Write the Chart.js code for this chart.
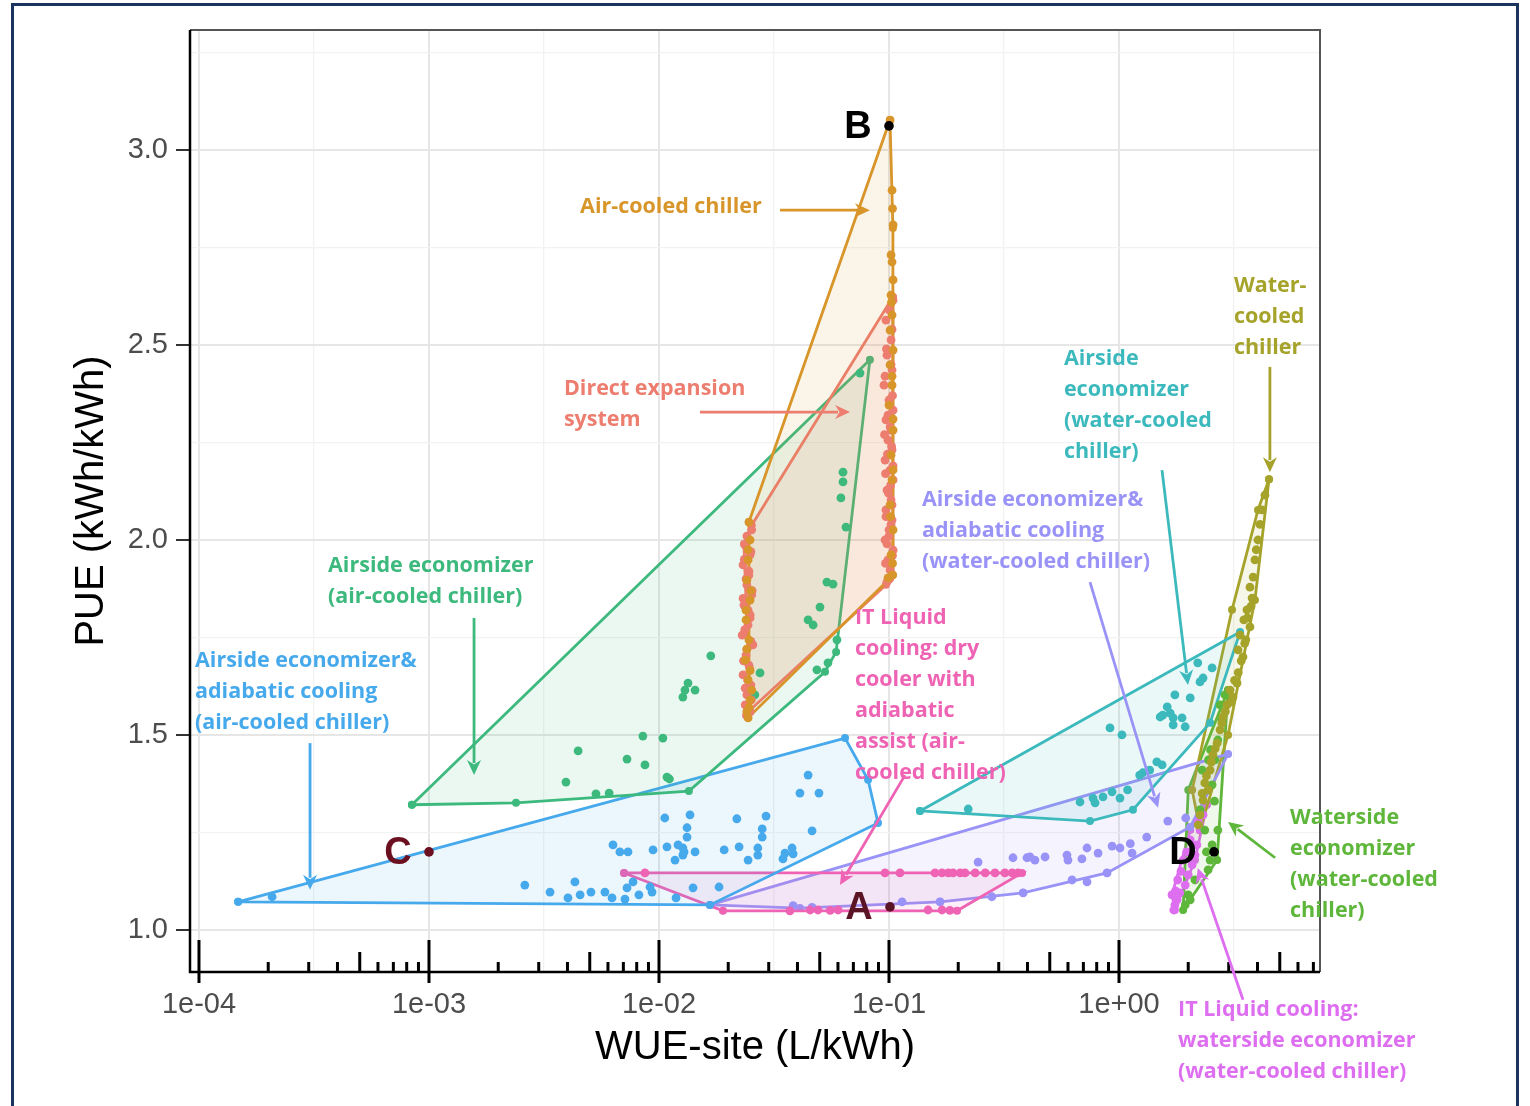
<!DOCTYPE html>
<html>
<head>
<meta charset="utf-8">
<script src="https://cdn.jsdelivr.net/npm/chart.js@4.4.1/dist/chart.umd.min.js"></script>
<style>
  html, body { margin: 0; padding: 0; background: #fff; }
  #wrap { position: relative; width: 1530px; height: 1106px; overflow: hidden; }
  #frame { position: absolute; left: 11px; top: 3px; width: 1508px; height: 1120px;
           border: 3px solid #1c355e; box-sizing: border-box; }
  #c { position: absolute; left: 0; top: 0; }
</style>
</head>
<body>
<div id="wrap">
  <div id="frame"></div>
  <canvas id="c" width="1530" height="1106"></canvas>
</div>
<script>

// ---- DATA ----

const categories = [
  "Air-cooled chiller",
  "Direct expansion system",
  "Airside economizer (air-cooled chiller)",
  "Airside economizer& adiabatic cooling (air-cooled chiller)",
  "IT Liquid cooling: dry cooler with adiabatic assist (air-cooled chiller)",
  "Airside economizer (water-cooled chiller)",
  "Airside economizer& adiabatic cooling (water-cooled chiller)",
  "Water-cooled chiller",
  "Waterside economizer (water-cooled chiller)",
  "IT Liquid cooling: waterside economizer (water-cooled chiller)"
];

// x = WUE-site (L/kWh), y = PUE

// air-cooled chiller
const acHullX = [0.101, 0.104, 0.104, 0.099, 0.0244, 0.0246];
const acHullY = [3.077, 2.80, 1.91, 1.897, 1.544, 2.046];
const acX = [0.1011, 0.1031, 0.1042, 0.1021, 0.1031, 0.1042, 0.1021, 0.1031, 0.1011, 0.1042, 0.1011, 0.1031, 0.1000, 0.1042, 0.1021, 0.1031, 0.1011, 0.1042, 0.1021, 0.1031, 0.0990,
             0.0246, 0.0249, 0.0244, 0.0241, 0.0249, 0.0239, 0.0246, 0.0237, 0.0244, 0.0249, 0.0244, 0.0253, 0.0241, 0.0251, 0.1042, 0.1031,
             0.1036, 0.1026, 0.1042, 0.1016, 0.1036, 0.0244, 0.0239, 0.0249, 0.0246, 0.0241];
const acY = [3.077, 2.897, 2.808, 2.731, 2.713, 2.667, 2.628, 2.577, 2.538, 2.487, 2.449, 2.397, 2.346, 2.282, 2.218, 2.154, 2.090, 2.026, 1.962, 1.910, 1.903,
             2.046, 2.000, 1.949, 1.897, 1.846, 1.795, 1.744, 1.692, 1.641, 1.590, 1.544, 1.615, 1.720, 1.870, 2.180, 2.420,
             2.850, 2.610, 2.310, 2.060, 1.940, 1.975, 1.820, 1.665, 1.570, 1.560];

// direct expansion
const dxHullX = [0.104, 0.104, 0.097, 0.0249, 0.0234, 0.0253];
const dxHullY = [2.623, 1.91, 1.885, 1.564, 1.99, 2.038];
const dxX = [0.1042, 0.0970, 0.1021, 0.0980, 0.1031, 0.0951, 0.1000, 0.1042, 0.0970, 0.1021, 0.0990, 0.1031, 0.0961, 0.1011, 0.1042, 0.0980, 0.1021, 0.0970, 0.1031, 0.1000, 0.0961, 0.1042, 0.0990, 0.1011, 0.0980,
             0.0253, 0.0237, 0.0249, 0.0232, 0.0246, 0.0241, 0.0253, 0.0234, 0.0249, 0.0244, 0.0230, 0.0256, 0.0239, 0.0246, 0.0232, 0.0251, 0.0241, 0.0237, 0.0249,
             0.1000, 0.1031, 0.0975, 0.1021, 0.0961, 0.1036, 0.0990, 0.1011, 0.0956, 0.1026, 0.0985, 0.1042, 0.0966, 0.1016, 0.0995, 0.1031, 0.0970, 0.1021, 0.1000, 0.0980, 0.1036, 0.0966, 0.1006,
             0.0241, 0.0251, 0.0235, 0.0246, 0.0239, 0.0254, 0.0232, 0.0244, 0.0249, 0.0236, 0.0251, 0.0241, 0.0233, 0.0248, 0.0243, 0.0237, 0.0252, 0.0245, 0.0240];
const dxY = [2.615, 2.564, 2.513, 2.474, 2.436, 2.397, 2.359, 2.333, 2.308, 2.282, 2.256, 2.231, 2.205, 2.179, 2.154, 2.128, 2.103, 2.077, 2.051, 2.026, 2.000, 1.974, 1.949, 1.923, 1.892,
             2.026, 1.987, 1.962, 1.936, 1.910, 1.885, 1.859, 1.833, 1.808, 1.782, 1.756, 1.731, 1.705, 1.679, 1.654, 1.628, 1.603, 1.577, 1.559,
             2.590, 2.540, 2.490, 2.450, 2.420, 2.370, 2.320, 2.290, 2.270, 2.240, 2.220, 2.190, 2.170, 2.140, 2.120, 2.090, 2.060, 2.040, 2.010, 1.990, 1.960, 1.940, 1.900,
             2.010, 1.970, 1.950, 1.920, 1.900, 1.870, 1.850, 1.820, 1.800, 1.770, 1.740, 1.720, 1.690, 1.670, 1.640, 1.620, 1.590, 1.570, 1.550];

// airside economizer (air-cooled chiller)
const aeHullX = [0.000843, 0.00239, 0.01349, 0.0527, 0.0589, 0.0826];
const aeHullY = [1.321, 1.326, 1.356, 1.662, 1.713, 2.462];
const aeX = [0.0631, 0.0631, 0.0618, 0.0650, 0.0537, 0.0571, 0.0501, 0.0445, 0.0468, 0.0168, 0.01337, 0.01297, 0.01435, 0.0127, 0.00851,
             0.0104, 0.00445, 0.00726, 0.00869, 0.01083, 0.0111, 0.00394, 0.00532, 0.00607, 0.0275, 0.0261, 0.0748, 0.0594, 0.0486, 0.0543];
const aeY = [2.174, 2.149, 2.108, 2.033, 1.892, 1.887, 1.828, 1.795, 1.782, 1.703, 1.633, 1.615, 1.615, 1.597, 1.497,
             1.492, 1.459, 1.438, 1.423, 1.392, 1.387, 1.379, 1.349, 1.351, 1.659, 1.603, 2.428, 1.744, 1.667, 1.685];

// airside economizer & adiabatic cooling (air-cooled chiller)
const aaHullX = [0.000148, 0.0644, 0.0811, 0.0896, 0.01666];
const aaHullY = [1.072, 1.492, 1.385, 1.274, 1.064];
const aaX = [0.000208, 0.00261, 0.00336, 0.00402, 0.00454, 0.00506, 0.00625, 0.00726, 0.00914, 0.00431,
             0.0106, 0.01364, 0.01324, 0.01324, 0.00631, 0.00676, 0.00733, 0.00942, 0.01083, 0.0127,
             0.0127, 0.01174, 0.0445, 0.0410, 0.0496, 0.0218, 0.0292, 0.0281, 0.0281, 0.0463,
             0.0121, 0.01285, 0.01435, 0.0192, 0.0223, 0.0244, 0.0269, 0.0269, 0.0353, 0.0346,
             0.0379, 0.0383, 0.00582, 0.00771, 0.00818, 0.00933, 0.01406, 0.01824, 0.01186, 0.00711];
const aaY = [1.085, 1.115, 1.097, 1.082, 1.090, 1.097, 1.082, 1.108, 1.110, 1.123,
             1.287, 1.295, 1.262, 1.238, 1.218, 1.200, 1.200, 1.205, 1.213, 1.210,
             1.192, 1.179, 1.397, 1.351, 1.351, 1.285, 1.292, 1.259, 1.238, 1.254,
             1.218, 1.200, 1.200, 1.205, 1.213, 1.179, 1.210, 1.192, 1.197, 1.182,
             1.210, 1.195, 1.097, 1.123, 1.090, 1.097, 1.108, 1.110, 1.082, 1.079];

// IT liquid cooling: dry cooler with adiabatic assist
const idHullX = [0.00705, 0.3787, 0.1976, 0.01897];
const idHullY = [1.146, 1.146, 1.049, 1.049];
const idX = [0.00869, 0.0961, 0.1116, 0.1585, 0.170, 0.181, 0.190, 0.204, 0.214, 0.237, 0.262, 0.289, 0.319, 0.343, 0.364,
             0.0371, 0.0454, 0.0491, 0.0555, 0.0601, 0.1478, 0.170, 0.184];
const idY = [1.146, 1.146, 1.146, 1.146, 1.146, 1.146, 1.146, 1.146, 1.146, 1.146, 1.146, 1.146, 1.146, 1.146, 1.146,
             1.049, 1.051, 1.051, 1.050, 1.051, 1.051, 1.051, 1.050];

// airside economizer (water-cooled chiller)
const awHullX = [0.1364, 0.748, 1.15, 2.49, 3.36];
const awHullY = [1.305, 1.279, 1.308, 1.531, 1.764];
const awX = [2.20, 2.54, 2.32, 2.25, 1.75, 2.04, 1.62, 1.55, 1.67, 1.72, 1.88, 1.72, 1.94, 1.51, 0.914,
             1.03, 1.46, 1.54, 1.27, 1.23, 0.677, 0.771, 0.787, 0.852, 0.933, 1.01, 1.09, 0.221, 1.36];
const awY = [1.685, 1.672, 1.646, 1.636, 1.603, 1.595, 1.572, 1.551, 1.556, 1.544, 1.544, 1.526, 1.521, 1.546, 1.518,
             1.500, 1.431, 1.423, 1.403, 1.397, 1.328, 1.338, 1.326, 1.341, 1.354, 1.338, 1.359, 1.310, 1.410];

// airside economizer & adiabatic cooling (water-cooled chiller)
const wdHullX = [0.01666, 2.98, 2.04, 0.887, 0.383, 0.1667, 0.041];
const wdHullY = [1.064, 1.451, 1.264, 1.146, 1.095, 1.072, 1.056];
const wdX = [0.244, 0.346, 0.398, 0.431, 0.477, 0.594, 0.600, 0.690, 0.726, 0.811, 0.933, 1.01, 1.12, 1.14,
             1.32, 1.63, 1.95, 0.0383, 0.0463, 0.114, 0.1667, 0.280, 0.383, 0.625, 0.726, 0.887, 0.410];
const wdY = [1.174, 1.185, 1.185, 1.179, 1.187, 1.192, 1.179, 1.182, 1.210, 1.197, 1.215, 1.210, 1.221, 1.197,
             1.238, 1.279, 1.287, 1.062, 1.058, 1.072, 1.072, 1.085, 1.095, 1.128, 1.123, 1.146, 1.187];

// water-cooled chiller
const wcHullX = [4.49, 3.90, 2.98, 2.25, 2.08, 3.10, 4.02];
const wcHullY = [2.156, 1.846, 1.500, 1.256, 1.359, 1.821, 2.077];
const wcX = [4.19, 4.02, 3.90, 3.83, 3.71, 3.79, 3.60, 3.71, 3.49, 3.36, 3.46, 3.29, 3.26, 3.13,
             3.04, 2.83, 2.95, 2.75, 2.67, 2.56, 2.49, 2.36, 2.32, 2.25, 4.31, 3.56, 2.44, 2.21,
             4.10, 3.95, 3.75, 3.62, 3.52, 3.40, 3.30, 3.18, 3.08, 2.90, 2.80, 2.62, 2.52, 2.40, 2.30];
const wcY = [2.077, 2.000, 1.949, 1.905, 1.879, 1.851, 1.821, 1.777, 1.795, 1.756, 1.700, 1.718, 1.633, 1.597,
             1.615, 1.546, 1.577, 1.513, 1.479, 1.449, 1.410, 1.377, 1.333, 1.295, 2.115, 1.744, 1.359, 1.269,
             2.040, 1.975, 1.830, 1.800, 1.735, 1.690, 1.660, 1.640, 1.585, 1.560, 1.530, 1.465, 1.430, 1.395, 1.350];

// waterside economizer (water-cooled chiller)
const wsHullX = [2.98, 2.67, 1.90, 2.00];
const wsHullY = [1.615, 1.179, 1.051, 1.359];
const wsX = [2.80, 2.69, 2.61, 2.54, 2.25, 2.36, 2.54, 2.49, 2.44, 2.14, 2.00, 1.94, 2.30, 2.50, 2.45, 2.75, 2.69, 2.04, 2.89, 2.60, 2.40];
const wsY = [1.538, 1.487, 1.436, 1.372, 1.308, 1.256, 1.218, 1.179, 1.154, 1.128, 1.090, 1.064, 1.410, 1.462, 1.436, 1.577, 1.256, 1.077, 1.603, 1.330, 1.200];

// IT liquid cooling: waterside economizer
const iwHullX = [2.41, 2.14, 1.75, 1.70, 2.04];
const iwHullY = [1.321, 1.179, 1.051, 1.090, 1.256];
const iwX = [2.32, 2.25, 2.18, 2.14, 2.08, 2.00, 1.94, 1.84, 1.79, 1.75, 1.73, 1.80, 1.90, 2.04, 2.21, 1.70, 1.76, 1.86, 1.97];
const iwY = [1.295, 1.256, 1.218, 1.192, 1.167, 1.141, 1.115, 1.095, 1.077, 1.064, 1.051, 1.128, 1.179, 1.231, 1.277, 1.090, 1.100, 1.150, 1.200];

// reference cases A-D
const markerNames = ["A", "B", "C", "D"];
const markerX = [0.101, 0.100, 0.001, 2.59];
const markerY = [1.059, 3.062, 1.200, 1.200];

// axis ranges and tick positions
const xRange = [9.14e-5, 7.48];
const yRange = [0.892, 3.308];
const xGridExp = [-4, -3.5, -3, -2.5, -2, -1.5, -1, -0.5, 0, 0.5];
const yGridVals = [1, 1.25, 1.5, 1.75, 2, 2.25, 2.5, 2.75, 3, 3.25];

// ---- STYLE ----

const colors = ["#d8952a", "#ec7d6f", "#3db97e", "#46a9ec", "#ee63b3",
                "#3cb9bc", "#9a93f7", "#a6a32a", "#5eb63a", "#de6ef0"];
const markerColors = ["#5a1426", "#000000", "#6a1020", "#000000"];

const groups = [
  [acHullX, acHullY, acX, acY],
  [dxHullX, dxHullY, dxX, dxY],
  [aeHullX, aeHullY, aeX, aeY],
  [aaHullX, aaHullY, aaX, aaY],
  [idHullX, idHullY, idX, idY],
  [awHullX, awHullY, awX, awY],
  [wdHullX, wdHullY, wdX, wdY],
  [wcHullX, wcHullY, wcX, wcY],
  [wsHullX, wsHullY, wsX, wsY],
  [iwHullX, iwHullY, iwX, iwY]
];

// text callouts: group index, lines, anchor (data units), arrow from -> to (data units)
const callouts = [
  { g: 0, lines: ["Air-cooled chiller"], at: [0.00454, 2.854], arrow: [0.0336, 2.846, 0.0826, 2.846] },
  { g: 1, lines: ["Direct expansion", "system"], at: [0.00386, 2.387], arrow: [0.01507, 2.328, 0.0677, 2.328] },
  { g: 2, lines: ["Airside economizer", "(air-cooled chiller)"], at: [0.000364, 1.933], arrow: [0.00157, 1.80, 0.00157, 1.397] },
  { g: 3, lines: ["Airside economizer&", "adiabatic cooling", "(air-cooled chiller)"], at: [0.0000961, 1.690], arrow: [0.000304, 1.479, 0.000304, 1.103] },
  { g: 4, lines: ["IT Liquid", "cooling: dry", "cooler with", "adiabatic", "assist (air-", "cooled chiller)"], at: [0.0711, 1.80], arrow: [0.1174, 1.397, 0.0612, 1.115] },
  { g: 6, lines: ["Airside economizer&", "adiabatic cooling", "(water-cooled chiller)"], at: [0.139, 2.103], arrow: [0.748, 1.892, 1.478, 1.313] },
  { g: 5, lines: ["Airside", "economizer", "(water-cooled", "chiller)"], at: [0.576, 2.464], arrow: [1.538, 2.179, 1.995, 1.628] },
  { g: 7, lines: ["Water-", "cooled", "chiller"], at: [3.16, 2.651], arrow: [4.53, 2.444, 4.53, 2.174] },
  { g: 8, lines: ["Waterside", "economizer", "(water-cooled", "chiller)"], at: [5.54, 1.287], arrow: [4.77, 1.185, 2.98, 1.277] },
  { g: 9, lines: ["IT Liquid cooling:", "waterside economizer", "(water-cooled chiller)"], at: [1.806, 0.795], arrow: [3.46, 0.821, 2.20, 1.159] }
];


function toPoints(xs, ys) {
    return xs.map(function (v, i) { return { x: v, y: ys[i] }; });
}

function fade(hex, a) {
    const n = parseInt(hex.slice(1), 16);
    return "rgba(" + (n >> 16) + "," + ((n >> 8) & 255) + "," + (n & 255) + "," + a + ")";
}

function isDecade(v) {
    const e = Math.log10(v);
    return Math.abs(e - Math.round(e)) < 1e-6;
}


const datasets = [];

groups.forEach(function (g, i) {

    const hull = toPoints(g[0], g[1]);
    hull.push(hull[0]);

    datasets.push({
        label: categories[i] + " hull",
        data: hull,
        showLine: true,
        fill: "shape",
        backgroundColor: fade(colors[i], 0.1),
        borderColor: colors[i],
        borderWidth: 2.8,
        pointRadius: 4,
        pointBackgroundColor: colors[i],
        pointBorderWidth: 0,
        order: 2
    });

    datasets.push({
        label: categories[i],
        data: toPoints(g[2], g[3]),
        pointRadius: 4.4,
        pointBackgroundColor: colors[i],
        pointBorderWidth: 0,
        order: 1
    });

});

datasets.push({
    label: "cases",
    data: toPoints(markerX, markerY),
    pointRadius: 4.8,
    pointBackgroundColor: markerColors,
    pointBorderWidth: 0,
    order: 0
});


// frame, log ticks, letters, callouts, axis titles
const overlay = {
    id: "overlay",
    afterDatasetsDraw: function (chart) {

        const ctx = chart.ctx;
        const a = chart.chartArea;
        const xs = chart.scales.x;
        const ys = chart.scales.y;

        ctx.save();

        // panel border
        ctx.lineWidth = 2;
        ctx.strokeStyle = "#555";
        ctx.beginPath();
        ctx.moveTo(a.left, a.top);
        ctx.lineTo(a.right, a.top);
        ctx.lineTo(a.right, a.bottom);
        ctx.stroke();
        ctx.strokeStyle = "#000";
        ctx.lineWidth = 2.5;
        ctx.beginPath();
        ctx.moveTo(a.left, a.top);
        ctx.lineTo(a.left, a.bottom);
        ctx.lineTo(a.right, a.bottom);
        ctx.stroke();

        // log ticks
        ctx.lineWidth = 3;
        for (let n = -5; n <= 1; n++) {
            for (let k = 1; k <= 9; k++) {
                const v = k * Math.pow(10, n);
                if (v < xRange[0] || v > xRange[1]) continue;
                const px = xs.getPixelForValue(v);
                let top = a.bottom - 10, bot = a.bottom;
                if (k === 1) { top = a.bottom - 32; bot = a.bottom + 11; }
                else if (k === 5) { top = a.bottom - 20; }
                ctx.beginPath();
                ctx.moveTo(px, top);
                ctx.lineTo(px, bot);
                ctx.stroke();
            }
        }

        // case letters
        ctx.font = "bold 38px 'Liberation Sans', Arial, sans-serif";
        ctx.textAlign = "center";
        ctx.textBaseline = "middle";
        markerNames.forEach(function (m, i) {
            ctx.fillStyle = markerColors[i];
            ctx.fillText(m, xs.getPixelForValue(markerX[i]) - 31, ys.getPixelForValue(markerY[i]) + 2);
        });

        // callouts
        ctx.font = "bold 21.5px 'Open Sans', 'Noto Sans', sans-serif";
        ctx.textAlign = "left";
        callouts.forEach(function (c) {
            const col = colors[c.g];
            ctx.fillStyle = col;
            const lx = xs.getPixelForValue(c.at[0]);
            const ly = ys.getPixelForValue(c.at[1]);
            c.lines.forEach(function (t, j) {
                ctx.fillText(t, lx, ly + j * 31);
            });

            const x1 = xs.getPixelForValue(c.arrow[0]);
            const y1 = ys.getPixelForValue(c.arrow[1]);
            const x2 = xs.getPixelForValue(c.arrow[2]);
            const y2 = ys.getPixelForValue(c.arrow[3]);
            const ang = Math.atan2(y2 - y1, x2 - x1);
            const hl = 15, hw = 7;
            ctx.strokeStyle = col;
            ctx.lineWidth = 2.8;
            ctx.beginPath();
            ctx.moveTo(x1, y1);
            ctx.lineTo(x2 - Math.cos(ang) * hl * 0.8, y2 - Math.sin(ang) * hl * 0.8);
            ctx.stroke();
            ctx.beginPath();
            ctx.moveTo(x2, y2);
            ctx.lineTo(x2 - Math.cos(ang) * hl - Math.sin(ang) * hw, y2 - Math.sin(ang) * hl + Math.cos(ang) * hw);
            ctx.lineTo(x2 - Math.cos(ang) * hl * 0.7, y2 - Math.sin(ang) * hl * 0.7);
            ctx.lineTo(x2 - Math.cos(ang) * hl + Math.sin(ang) * hw, y2 - Math.sin(ang) * hl - Math.cos(ang) * hw);
            ctx.closePath();
            ctx.fill();
        });

        // axis titles
        ctx.fillStyle = "#000";
        ctx.font = "40px 'Liberation Sans', Arial, sans-serif";
        ctx.textAlign = "center";
        ctx.textBaseline = "middle";
        ctx.fillText("WUE-site (L/kWh)", (a.left + a.right) / 2, a.bottom + 76);
        ctx.translate(a.left - 98, (a.top + a.bottom) / 2);
        ctx.rotate(-Math.PI / 2);
        ctx.fillText("PUE (kWh/kWh)", 0, 0);

        ctx.restore();
    }
};


new Chart(
    document.getElementById("c"),
    {
        type: "scatter",

        data: { datasets: datasets },

        options: {
            responsive: false,
            animation: false,
            events: [],

            layout: {
                padding: { left: 14, top: 30, right: 210, bottom: 0 }
            },

            plugins: {
                legend: { display: false },
                tooltip: { enabled: false }
            },

            scales: {
                x: {
                    type: "logarithmic",
                    min: xRange[0],
                    max: xRange[1],
                    afterBuildTicks: function (axis) {
                        axis.ticks = xGridExp.map(function (e) { return { value: Math.pow(10, e) }; });
                    },
                    afterFit: function (axis) { axis.height = 134; },
                    border: { display: false },
                    grid: {
                        drawTicks: false,
                        color: function (c) {
                            return c.tick && isDecade(c.tick.value) ? "#e6e6e6" : "#f2f2f2";
                        },
                        lineWidth: function (c) {
                            return c.tick && isDecade(c.tick.value) ? 2 : 1.3;
                        }
                    },
                    ticks: {
                        autoSkip: false,
                        maxRotation: 0,
                        padding: 16,
                        color: "#4d4d4d",
                        font: { size: 29, family: "'Liberation Sans', Arial, sans-serif" },
                        callback: function (v) {
                            if (!isDecade(v)) return "";
                            const e = Math.round(Math.log10(v));
                            return "1e" + (e < 0 ? "-" : "+") + String(Math.abs(e)).padStart(2, "0");
                        }
                    }
                },
                y: {
                    min: yRange[0],
                    max: yRange[1],
                    afterBuildTicks: function (axis) {
                        axis.ticks = yGridVals.map(function (v) { return { value: v }; });
                    },
                    afterFit: function (axis) { axis.width = 176; },
                    border: { display: false },
                    grid: {
                        tickLength: 14,
                        tickWidth: 2,
                        tickColor: function (c) {
                            return c.tick && c.tick.value % 0.5 === 0 ? "#333" : "rgba(0,0,0,0)";
                        },
                        color: function (c) {
                            return c.tick && c.tick.value % 0.5 === 0 ? "#e6e6e6" : "#f2f2f2";
                        },
                        lineWidth: function (c) {
                            return c.tick && c.tick.value % 0.5 === 0 ? 2 : 1.3;
                        }
                    },
                    ticks: {
                        padding: 8,
                        color: "#4d4d4d",
                        font: { size: 29, family: "'Liberation Sans', Arial, sans-serif" },
                        callback: function (v) {
                            return v % 0.5 === 0 ? v.toFixed(1) : "";
                        }
                    }
                }
            }
        },

        plugins: [overlay]
    }
);

</script>
</body>
</html>
